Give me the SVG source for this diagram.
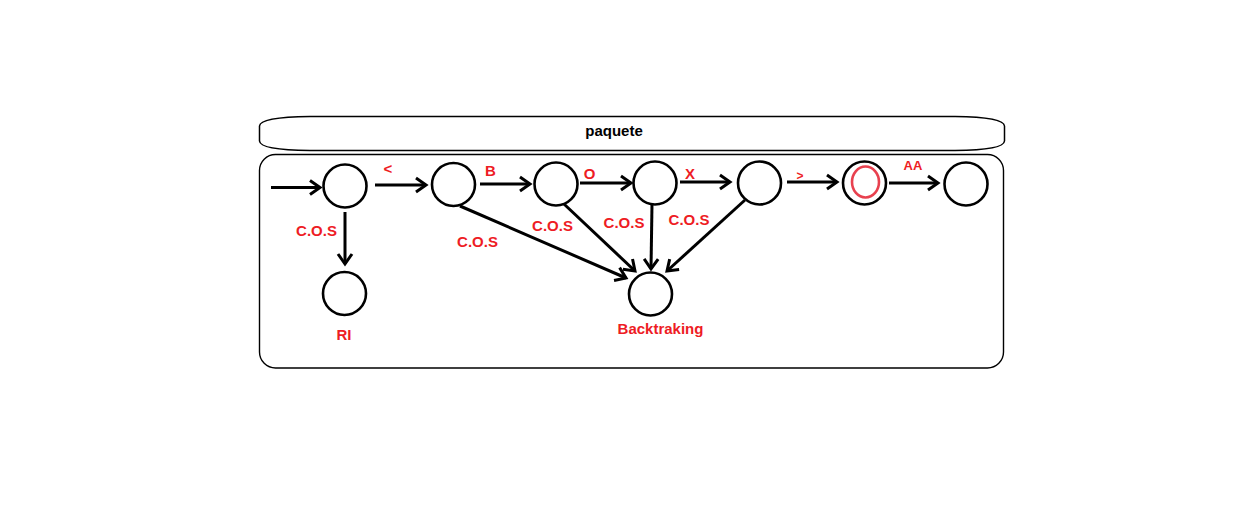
<svg xmlns="http://www.w3.org/2000/svg" width="1258" height="521" viewBox="0 0 1258 521">
<style>
.st{fill:#fff;stroke:#000;stroke-width:2.6}
.ln{fill:none;stroke:#000;stroke-width:3;marker-end:url(#ah)}
.lb{font-family:"Liberation Sans",Arial,sans-serif;font-weight:bold;font-size:15px;fill:#ee1c24;text-anchor:middle}
.tt{font-family:"Liberation Sans",Arial,sans-serif;font-weight:bold;font-size:15px;fill:#000;text-anchor:middle}
</style>
<defs>
<marker id="ah" markerUnits="userSpaceOnUse" markerWidth="18" markerHeight="18" viewBox="0 0 18 18" refX="14" refY="9" orient="auto">
<path d="M4,2 L14,9 L4,16" fill="none" stroke="#000" stroke-width="3"/>
</marker>
</defs>
<rect width="1258" height="521" fill="#fff"/>
<g id="banner">
<path d="M310,116.5 L955,116.5 Q1004,117 1004.5,126 L1004.5,141 Q1004,150 955,150.5 L310,150.5 Q260,150 259.5,141 L259.5,126 Q260,117 310,116.5 Z" fill="#fff" stroke="#000" stroke-width="1.5"/>
<text class="tt" x="614" y="136">paquete</text>
</g>
<g id="container">
<rect x="259.5" y="154.5" width="744" height="213.5" rx="16" ry="16" fill="none" stroke="#000" stroke-width="1.4"/>
</g>
<g id="connectors">
<line class="ln" x1="271" y1="187.5" x2="320" y2="187.5"/>
<line class="ln" x1="375" y1="185" x2="426" y2="185"/>
<line class="ln" x1="480" y1="184" x2="530" y2="184"/>
<line class="ln" x1="580" y1="183" x2="631" y2="183"/>
<line class="ln" x1="680" y1="182" x2="730" y2="182"/>
<line class="ln" x1="787" y1="182" x2="837" y2="182"/>
<line class="ln" x1="889" y1="183" x2="938" y2="183"/>
<line class="ln" x1="345" y1="212" x2="345" y2="264"/>
<line class="ln" x1="460" y1="206" x2="626" y2="278"/>
<line class="ln" x1="564" y1="204" x2="635" y2="271"/>
<line class="ln" x1="652" y1="204" x2="651" y2="269"/>
<line class="ln" x1="745" y1="200" x2="667" y2="271"/>
</g>
<g id="labels">
<text class="lb" x="388" y="174">&lt;</text>
<text class="lb" x="490.5" y="175.5">B</text>
<text class="lb" x="589.5" y="178.5">O</text>
<text class="lb" x="690" y="178.5">X</text>
<text class="lb" x="800" y="180" style="font-size:12px">&gt;</text>
<text class="lb" x="913" y="170" style="font-size:13px">AA</text>
<text class="lb" x="316.5" y="235.5">C.O.S</text>
<text class="lb" x="477.5" y="247">C.O.S</text>
<text class="lb" x="552.5" y="231">C.O.S</text>
<text class="lb" x="624" y="228">C.O.S</text>
<text class="lb" x="689" y="225">C.O.S</text>
</g>
<g id="s0"><circle class="st" cx="345" cy="186" r="21.5"/></g>
<g id="ri"><circle class="st" cx="344.5" cy="293.5" r="21.5"/><text class="lb" x="344" y="340">RI</text></g>
<g id="s1"><circle class="st" cx="453.5" cy="184.5" r="21.5"/></g>
<g id="s2"><circle class="st" cx="556" cy="184" r="21.5"/></g>
<g id="s3"><circle class="st" cx="655" cy="183" r="21.5"/></g>
<g id="s4"><circle class="st" cx="759.5" cy="183" r="21.5"/></g>
<g id="s5"><circle class="st" cx="864.5" cy="183" r="21.5"/><ellipse cx="865.5" cy="182" rx="13.5" ry="15.5" fill="none" stroke="#e8414f" stroke-width="2.6"/></g>
<g id="s6"><circle class="st" cx="966" cy="184" r="21.5"/></g>
<g id="backtracking"><circle class="st" cx="650.5" cy="294" r="21.5"/><text class="lb" x="660.5" y="333.5">Backtraking</text></g>
</svg>
